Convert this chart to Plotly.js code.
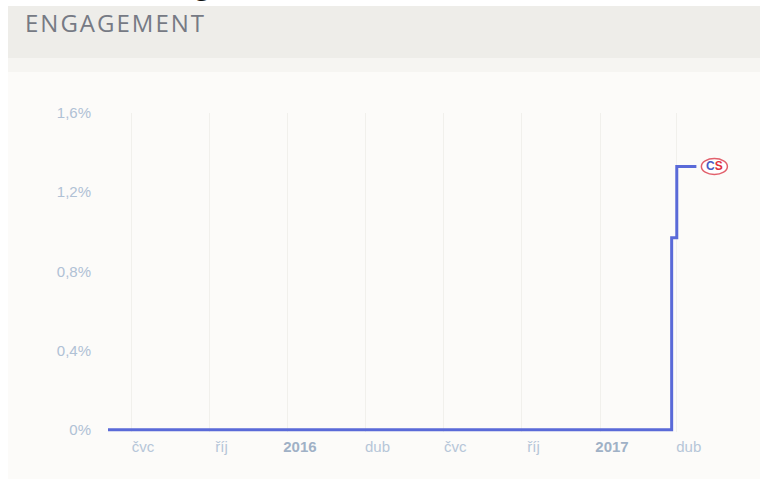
<!DOCTYPE html>
<html>
<head>
<meta charset="utf-8">
<script src="https://cdn.plot.ly/plotly-3.0.1.min.js"></script>
<style>
  html, body { margin: 0; padding: 0; background: #ffffff; }
  #bg { position: absolute; left: 8px; top: 6px; width: 752px; height: 473px;
        background: linear-gradient(to bottom, #eeede9 0px, #eeede9 52px, #f6f5f2 52px, #f6f5f2 66px, #fcfbf9 66px); }
  #chart { position: absolute; left: 0; top: 0; width: 760px; height: 479px; }
  #chart .gtitle { letter-spacing: 2px; }
</style>
</head>
<body>
<div id="bg"></div>
<div id="chart"></div>
<script>
// Engagement series (step line), values in %
const dates = ['2015-06-04', '2017-03-26', '2017-04-01', '2017-04-24'];
const engagement = [0, 0.97, 1.33, 1.33];

// Axis ticks
const xTickVals = ['2015-07-01', '2015-10-01', '2016-01-01', '2016-04-01', '2016-07-01', '2016-10-01', '2017-01-01', '2017-04-01'];
const xTickText = ['čvc', 'říj', '<b style="color:#a0b1c6">2016</b>', 'dub', 'čvc', 'říj', '<b style="color:#a0b1c6">2017</b>', 'dub'];
const yTickVals = [0, 0.4, 0.8, 1.2, 1.6];
const yTickText = ['0%', '0,4%', '0,8%', '1,2%', '1,6%'];

const lastDate = dates[dates.length - 1];
const lastVal = engagement[engagement.length - 1];

const trace = {
  x: dates,
  y: engagement,
  type: 'scatter',
  mode: 'lines',
  line: { color: '#5a6ad8', width: 3, shape: 'hv' },
  hoverinfo: 'skip'
};

const layout = {
  width: 760,
  height: 479,
  paper_bgcolor: 'rgba(0,0,0,0)',
  plot_bgcolor: 'rgba(0,0,0,0)',
  margin: { l: 108, r: 15, t: 113, b: 47 },
  showlegend: false,
  title: {
    text: 'ENGAGEMENT',
    xref: 'container', yref: 'container',
    x: 25 / 760, xanchor: 'left',
    y: 1 - 15 / 479, yanchor: 'top',
    font: { family: 'Open Sans, sans-serif', size: 24, color: '#767a84' }
  },
  xaxis: {
    type: 'date',
    range: ['2015-06-04', '2017-06-20'],
    tickvals: xTickVals,
    ticktext: xTickText,
    ticks: '',
    ticklabelshift: 12,
    ticklabelstandoff: 4,
    showgrid: true,
    gridcolor: '#f1f0ec',
    gridwidth: 1,
    zeroline: false,
    showline: false,
    tickfont: { family: 'Liberation Sans, Arial, sans-serif', size: 15, color: '#b6c6d8' },
    fixedrange: true
  },
  yaxis: {
    range: [-0.012, 1.6],
    tickvals: yTickVals,
    ticktext: yTickText,
    ticks: '',
    ticklabelstandoff: 16,
    showgrid: false,
    zeroline: false,
    showline: false,
    tickfont: { family: 'Liberation Sans, Arial, sans-serif', size: 15, color: '#b0c1d5' },
    fixedrange: true
  },
  shapes: [{
    type: 'circle',
    xref: 'x', yref: 'y',
    xsizemode: 'pixel', ysizemode: 'pixel',
    xanchor: lastDate, yanchor: lastVal,
    x0: 5, x1: 31, y0: -8, y1: 8,
    line: { color: '#e2606c', width: 1.5 },
    fillcolor: '#ffffff'
  }],
  annotations: [{
    x: lastDate, y: lastVal,
    xref: 'x', yref: 'y',
    xshift: 18,
    showarrow: false,
    text: '<b><span style="color:#4a5ac4">C</span><span style="color:#e0303e">S</span></b>',
    font: { family: 'Liberation Sans, Arial, sans-serif', size: 12 }
  }, {
    x: (202 - 108) / 637, y: (432 - 3) / 319,
    xref: 'paper', yref: 'paper',
    xanchor: 'center', yanchor: 'bottom',
    showarrow: false,
    text: 'g',
    font: { family: 'Liberation Serif, serif', size: 32, color: '#111111' }
  }]
};

Plotly.newPlot('chart', [trace], layout, { displayModeBar: false, staticPlot: true });
</script>
</body>
</html>
